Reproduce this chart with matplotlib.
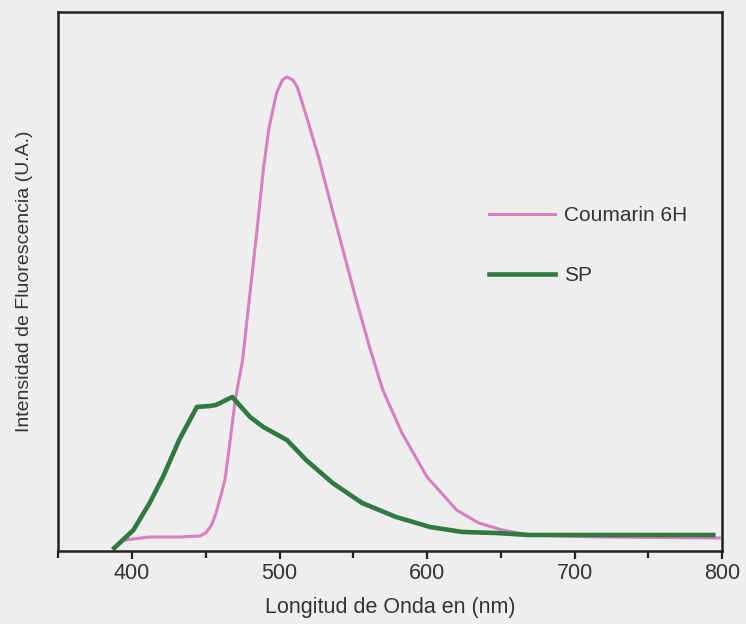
import matplotlib.pyplot as plt
from matplotlib.ticker import MultipleLocator

# Spectra (wavelength in nm, intensity in arbitrary units)
coumarin_nm = [395, 412, 432, 446, 450, 454, 457, 460, 463, 466, 470, 475, 480,
               485, 489, 493, 498, 502, 505, 509, 512, 519, 527, 534, 543, 552,
               561, 570, 583, 600, 620, 635, 651, 669, 717, 798]
coumarin_int = [11, 14, 14, 15, 18, 26, 38, 54, 71, 104, 151, 191, 258,
                324, 381, 424, 458, 471, 474, 471, 464, 431, 391, 351, 301, 251,
                204, 161, 118, 74, 41, 28, 21, 16, 14, 13]

sp_nm = [388, 401, 412, 421, 432, 444, 453, 457, 468, 480, 489, 505, 518,
         536, 556, 579, 602, 624, 647, 669, 717, 794]
sp_int = [3, 21, 48, 74, 111, 144, 145, 146, 154, 134, 124, 111, 91,
          68, 48, 34, 24, 19, 18, 16, 16, 16]

plt.rcParams['font.family'] = ['Liberation Sans', 'DejaVu Sans']
BG = '#eeeeee'
TXT = '#333333'

fig = plt.figure(figsize=(7.46, 6.24), dpi=100)
fig.patch.set_facecolor(BG)
ax = fig.add_axes([0.078, 0.117, 0.890, 0.864])
ax.set_facecolor(BG)

ax.plot(coumarin_nm, coumarin_int, color='#d77fbf', linewidth=2.2, label='Coumarin 6H')
ax.plot(sp_nm, sp_int, color='#2f7a3e', linewidth=3.3, label='SP')

ax.set_xlim(350, 800)
ax.set_ylim(0, 539)
ax.xaxis.set_major_locator(MultipleLocator(100))
ax.xaxis.set_minor_locator(MultipleLocator(50))
ax.set_yticks([])
ax.tick_params(axis='x', which='major', direction='out', length=6, width=1.6,
               labelsize=15.5, colors='#222222', labelcolor=TXT, pad=3)
ax.tick_params(axis='x', which='minor', direction='out', length=5, width=1.6,
               colors='#222222')

for spine in ax.spines.values():
    spine.set_color('#222222')
    spine.set_linewidth(1.8)

ax.set_xlabel('Longitud de Onda en (nm)', fontsize=15.5, color=TXT, labelpad=9)
ax.set_ylabel('Intensidad de Fluorescencia (U.A.)', fontsize=14, color=TXT, labelpad=18)

leg = ax.legend(loc='upper left', bbox_to_anchor=(0.62, 0.675), frameon=False,
                fontsize=15, handlelength=3.2, handletextpad=0.4, labelspacing=2.0)
for t in leg.get_texts():
    t.set_color(TXT)

plt.savefig('out.png', dpi=100, facecolor=BG)
